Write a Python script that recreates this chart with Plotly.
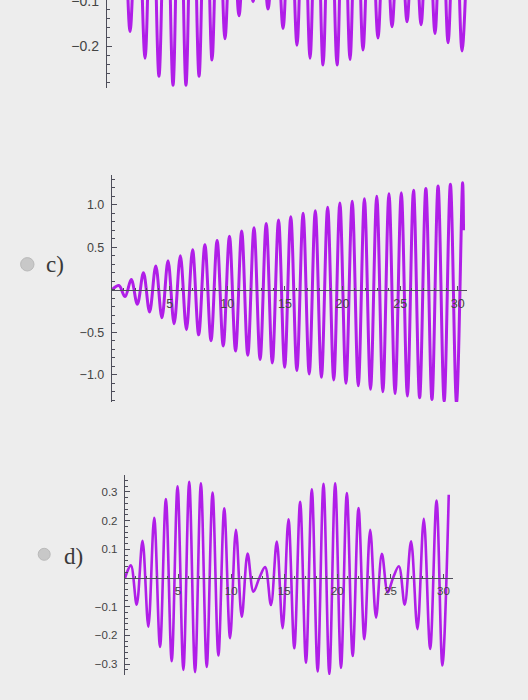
import plotly.graph_objects as go

W, H = 528, 700

# ---------------- data (turning points) ----------------
# top plot (only the lower part is visible)
top_t = [0.0, 0.40, 0.77, 1.35, 1.92, 2.54, 3.17, 3.75, 4.33, 4.92, 5.50, 6.04, 6.58,
         7.12, 7.67, 8.21, 8.75, 9.29, 9.83, 10.42, 11.00, 11.58, 12.17, 12.79, 13.42,
         14.04, 14.67, 15.25, 15.83, 16.38, 16.92, 17.46, 18.00, 18.58, 19.17, 19.71,
         20.25, 20.79, 21.33, 21.96, 22.58, 23.17, 23.75, 24.38, 25.00, 25.58, 26.17,
         26.75, 27.33, 27.88, 28.42, 29.00, 29.58, 30.15]
top_y = [0.0, 0.05, -0.09, 0.15, -0.168, 0.20, -0.227, 0.25, -0.267, 0.28, -0.287, 0.29,
         -0.287, 0.28, -0.267, 0.25, -0.231, 0.21, -0.184, 0.16, -0.133, 0.12, -0.102,
         0.11, -0.118, 0.14, -0.161, 0.18, -0.198, 0.21, -0.227, 0.235, -0.242, 0.245,
         -0.242, 0.235, -0.230, 0.22, -0.209, 0.195, -0.182, 0.17, -0.157, 0.15, -0.146,
         0.15, -0.153, 0.16, -0.172, 0.18, -0.193, 0.20, -0.211, 0.15]

# c) growing oscillation
c_t = [0.0, 0.60, 1.13, 1.67, 2.20, 2.73, 3.26, 3.80, 4.33, 4.86, 5.39, 5.93, 6.46,
       6.99, 7.52, 8.06, 8.59, 9.12, 9.65, 10.19, 10.72, 11.25, 11.78, 12.32, 12.85,
       13.38, 13.91, 14.45, 14.98, 15.51, 16.04, 16.58, 17.11, 17.64, 18.17, 18.71,
       19.24, 19.77, 20.30, 20.84, 21.37, 21.90, 22.43, 22.97, 23.50, 24.03, 24.56,
       25.10, 25.63, 26.16, 26.69, 27.23, 27.76, 28.29, 28.82, 29.36, 29.89, 30.42, 30.50]
c_y = [0.0, 0.05, -0.08, 0.12, -0.17, 0.20, -0.26, 0.28, -0.33, 0.34, -0.40, 0.40, -0.47,
       0.47, -0.53, 0.53, -0.60, 0.58, -0.66, 0.63, -0.72, 0.69, -0.77, 0.73, -0.82,
       0.78, -0.86, 0.82, -0.91, 0.86, -0.95, 0.90, -0.99, 0.93, -1.03, 0.97,
       -1.06, 1.02, -1.10, 1.04, -1.13, 1.07, -1.17, 1.10, -1.20, 1.13, -1.22,
       1.14, -1.25, 1.17, -1.27, 1.19, -1.29, 1.22, -1.31, 1.24, -1.33, 1.26, 0.70]

# d) beats
d_t = [0.0, 0.55, 1.10, 1.65, 2.20, 2.75, 3.30, 3.85, 4.40, 4.95, 5.50, 6.05, 6.60,
       7.15, 7.70, 8.25, 8.80, 9.35, 9.90, 10.45, 11.00, 11.55, 12.10, 12.65, 13.20,
       13.75, 14.30, 14.85, 15.40, 15.95, 16.50, 17.05, 17.60, 18.15, 18.70, 19.25,
       19.80, 20.35, 20.90, 21.45, 22.00, 22.55, 23.10, 23.65, 24.20, 24.75, 25.25,
       25.80, 26.35, 26.95, 27.55, 28.15, 28.75, 29.35, 29.90, 30.50]
d_y = [0.0, 0.044, -0.093, 0.13, -0.17, 0.21, -0.24, 0.275, -0.29, 0.32, -0.32, 0.335,
       -0.328, 0.33, -0.31, 0.298, -0.27, 0.243, -0.21, 0.168, -0.135, 0.085, -0.048,
       0.0, 0.038, -0.094, 0.127, -0.175, 0.205, -0.245, 0.266, -0.295, 0.309, -0.326,
       0.328, -0.335, 0.33, -0.313, 0.296, -0.272, 0.244, -0.213, 0.168, -0.138, 0.084,
       -0.05, 0.0, 0.041, -0.093, 0.128, -0.178, 0.206, -0.247, 0.27, -0.305, 0.29]

top_ticks = [-0.2, -0.1]
top_labels = ["\u22120.2", "\u22120.1"]
c_yticks = [-1.0, -0.5, 0.5, 1.0]
c_ylabels = ["\u22121.0", "\u22120.5", "0.5", "1.0"]
d_yticks = [-0.3, -0.2, -0.1, 0.1, 0.2, 0.3]
d_ylabels = ["\u22120.3", "\u22120.2", "\u22120.1", "0.1", "0.2", "0.3"]
x_ticks = [5, 10, 15, 20, 25, 30]
x_labels = ["5", "10", "15", "20", "25", "30"]

# ---------------- styling ----------------
LINE = "#b01ee8"
AX = "#4e4e5a"
TXT = "#444444"
FONT = "Liberation Sans"
BG = "#ededed"

def px(x):
    return x / W

def py(y):
    return 1 - y / H

fig = go.Figure()
fig.add_trace(go.Scatter(x=top_t, y=top_y, mode="lines", xaxis="x", yaxis="y",
                         line=dict(color=LINE, width=3, shape="spline", smoothing=1.0),
                         hoverinfo="skip"))
fig.add_trace(go.Scatter(x=c_t, y=c_y, mode="lines", xaxis="x2", yaxis="y2",
                         line=dict(color=LINE, width=3, shape="spline", smoothing=1.0),
                         hoverinfo="skip"))
fig.add_trace(go.Scatter(x=d_t, y=d_y, mode="lines", xaxis="x3", yaxis="y3",
                         line=dict(color=LINE, width=2.6, shape="spline", smoothing=1.0),
                         hoverinfo="skip"))

def yax(domain, rng, tv, tt, minor_dt, size, anchor):
    return dict(domain=domain, range=rng, anchor=anchor, showline=True, linecolor=AX,
                linewidth=1.4, ticks="inside", ticklen=5, tickwidth=1.2, tickcolor=AX,
                tickmode="array", tickvals=tv, ticktext=tt,
                tickfont=dict(family=FONT, size=size, color=TXT),
                minor=dict(tickmode="linear", tick0=0, dtick=minor_dt, ticks="inside",
                           ticklen=2.5, tickcolor=AX, tickwidth=1),
                showgrid=False, zeroline=False, ticklabelstandoff=4,
                ticklabeloverflow="allow", automargin=False, fixedrange=True)

def xax(domain, rng, pos, size):
    return dict(domain=domain, range=rng, anchor="free", position=pos, showline=True,
                linecolor=AX, linewidth=1.4, ticks="inside", ticklen=4, tickwidth=1.2,
                tickcolor=AX, tickmode="array", tickvals=x_ticks, ticktext=x_labels,
                tickfont=dict(family=FONT, size=size, color=TXT),
                minor=dict(tickmode="linear", tick0=0, dtick=1, ticks="inside",
                           ticklen=2, tickcolor=AX, tickwidth=1),
                showgrid=False, zeroline=False, ticklabelstandoff=2,
                automargin=False, fixedrange=True)

fig.update_layout(
    width=W, height=H,
    margin=dict(l=0, r=0, t=0, b=0, pad=0, autoexpand=False),
    paper_bgcolor=BG,
    plot_bgcolor="rgba(0,0,0,0)",
    showlegend=False,
    xaxis=dict(domain=[px(107), px(477)], range=[0, 30.83], anchor="y", visible=False,
               automargin=False, fixedrange=True),
    yaxis=yax([py(88), 1.0], [-0.293, -0.098], top_ticks, top_labels, 0.02, 14, "x"),
    xaxis2=xax([px(112), px(467)], [0, 30.8], py(290), 12.5),
    yaxis2=yax([py(402), py(175)], [-1.32, 1.35], c_yticks, c_ylabels, 0.1, 12.5, "x2"),
    xaxis3=xax([px(125), px(453)], [0, 30.9], py(578), 11.5),
    yaxis3=yax([py(675), py(475)], [-0.338, 0.359], d_yticks, d_ylabels, 0.02, 11.5, "x3"),
)

# radio buttons and option labels
for cx, cy, r in [(27.3, 264.3, 6.7), (44.2, 554.3, 6.0)]:
    fig.add_shape(type="circle", xref="paper", yref="paper",
                  x0=px(cx - r), x1=px(cx + r), y0=py(cy + r), y1=py(cy - r),
                  fillcolor="#c8c8c8", line=dict(color="#bababa", width=1))

fig.add_annotation(text="c)", x=px(44), y=py(264), xref="paper", yref="paper",
                   xanchor="left", yanchor="middle", showarrow=False,
                   font=dict(family="Liberation Serif", size=23, color="#3a3a3a"))
fig.add_annotation(text="d)", x=px(62), y=py(556), xref="paper", yref="paper",
                   xanchor="left", yanchor="middle", showarrow=False,
                   font=dict(family="Liberation Serif", size=23, color="#3a3a3a"))

page_js = ("document.body.style.margin='0';"
           "document.body.style.padding='0';"
           "document.body.style.overflow='hidden';"
           "document.body.style.background='" + BG + "';")

fig.write_html("out.html", config={"displayModeBar": False}, post_script=page_js)
